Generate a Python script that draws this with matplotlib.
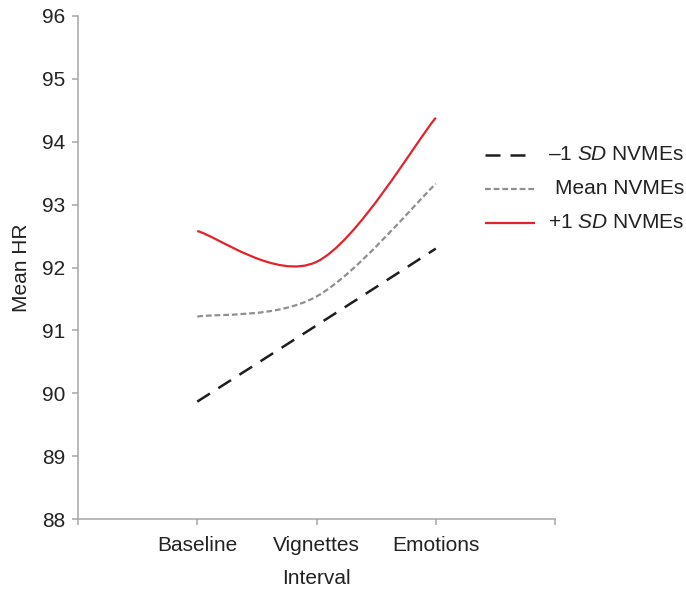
import matplotlib
matplotlib.use('Agg')
import matplotlib.pyplot as plt
from matplotlib.path import Path
from matplotlib.patches import PathPatch
from matplotlib.lines import Line2D

plt.rcParams['font.family'] = ['Liberation Sans', 'DejaVu Sans']
plt.rcParams['mathtext.fontset'] = 'custom'
plt.rcParams['mathtext.it'] = 'Liberation Sans:italic'
plt.rcParams['mathtext.rm'] = 'Liberation Sans'

# data
intervals = ['Baseline', 'Vignettes', 'Emotions']
minus_sd = [89.87, 91.08, 92.30]
mean_nv = [91.22, 91.54, 93.33]
plus_sd = [92.58, 92.09, 94.38]

labels = ['\u20131 $\\it{SD}$ NVMEs', 'Mean NVMEs', '+1 $\\it{SD}$ NVMEs']
styles = [
    dict(color='#1e1e1e', lw=1.8, dashes=(6, 4)),
    dict(color='#8f8f8f', lw=1.6, dashes=(2.6, 1.3)),
    dict(color='#e3232b', lw=1.6, dashes=None),
]


def smooth_path(xs, ys):
    # Excel-style smoothed line: cubic bezier with catmull-rom tangents / 6
    pts = list(zip(xs, ys))
    verts = [pts[0]]
    codes = [Path.MOVETO]
    n = len(pts)
    for i in range(n - 1):
        p0 = pts[max(i - 1, 0)]
        p1 = pts[i]
        p2 = pts[i + 1]
        p3 = pts[min(i + 2, n - 1)]
        c1 = (p1[0] + (p2[0] - p0[0]) / 6, p1[1] + (p2[1] - p0[1]) / 6)
        c2 = (p2[0] - (p3[0] - p1[0]) / 6, p2[1] - (p3[1] - p1[1]) / 6)
        verts += [c1, c2, p2]
        codes += [Path.CURVE4] * 3
    return Path(verts, codes)


fig = plt.figure(figsize=(6.86, 5.91), dpi=100)
ax = fig.add_axes([0.1137, 0.1213, 0.6954, 0.8521])

xpos = [1, 2, 3]
for series, st in zip([minus_sd, mean_nv, plus_sd], styles):
    patch = PathPatch(smooth_path(xpos, series), fill=False, edgecolor=st['color'],
                      lw=st['lw'], capstyle='butt')
    if st['dashes']:
        patch.set_linestyle((0, st['dashes']))
    ax.add_patch(patch)

ax.set_xlim(0, 4)
ax.set_ylim(88, 96)
ax.set_yticks(range(88, 97))
ax.set_xticks([0, 1, 2, 3, 4])
ax.set_xticklabels([''] + intervals + [''])

for s in ['top', 'right']:
    ax.spines[s].set_visible(False)
for s in ['left', 'bottom']:
    ax.spines[s].set_color('#a6a6a6')
    ax.spines[s].set_linewidth(1.1)
ax.tick_params(axis='both', direction='out', length=4, width=1.1, color='#a6a6a6',
               labelsize=15, labelcolor='#222222')
ax.tick_params(axis='y', pad=5)
ax.tick_params(axis='x', pad=8)
ax.set_xlabel('Interval', fontsize=15, color='#222222', labelpad=10)
ax.set_ylabel('Mean HR', fontsize=15, color='#222222', labelpad=8)

# legend drawn at the right, text right-aligned like the original
leg_y = [155, 189, 223]
for y, lab, st in zip(leg_y, labels, styles):
    yf = 1 - y / 591
    ln = Line2D([485 / 686, 535 / 686], [yf, yf], transform=fig.transFigure,
                color=st['color'], lw=st['lw'], solid_capstyle='butt', dash_capstyle='butt')
    if st['dashes']:
        ln.set_dashes(st['dashes'])
    fig.add_artist(ln)
    fig.text(684 / 686, yf, lab, ha='right', va='center', fontsize=15, color='#222222')

fig.savefig('out.png', dpi=100)
